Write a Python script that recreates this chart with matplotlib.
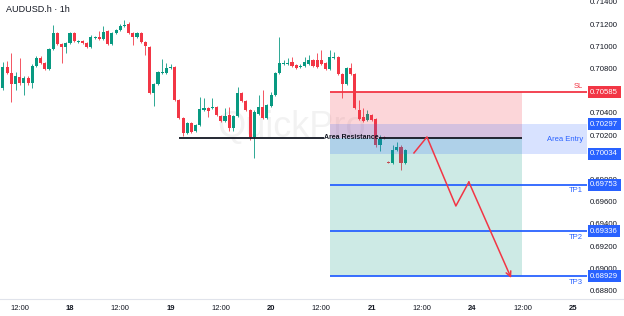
import matplotlib
matplotlib.use("Agg")
import matplotlib.pyplot as plt
from matplotlib.lines import Line2D
from matplotlib.patches import Rectangle
import numpy as np

plt.rcParams['font.family'] = ['Liberation Sans', 'DejaVu Sans']

# hourly candles from 17th 08:00 to 21st 08:00 (hour 0 = 18th 00:00)
openP = [0.70625, 0.70814, 0.70760, 0.70661, 0.70724, 0.70670, 0.70715, 0.70670, 0.70823, 0.70896,
         0.70850, 0.70796, 0.70977, 0.71121, 0.71022, 0.70995, 0.71031, 0.71121, 0.71040, 0.71049,
         0.71031, 0.70995, 0.71076, 0.71085, 0.71067, 0.71139, 0.71022, 0.71121, 0.71148, 0.71184,
         0.71202, 0.71121, 0.71085, 0.71121, 0.71040, 0.70995, 0.70580, 0.70661, 0.70760, 0.70760,
         0.70805, 0.70814, 0.70517, 0.70355, 0.70220, 0.70310, 0.70238, 0.70292, 0.70427, 0.70445,
         0.70445, 0.70454, 0.70373, 0.70328, 0.70382, 0.70265, 0.70373, 0.70580, 0.70508, 0.70427,
         0.70184, 0.70391, 0.70454, 0.70355, 0.70463, 0.70562, 0.70760, 0.70841, 0.70841, 0.70859,
         0.70832, 0.70814, 0.70823, 0.70841, 0.70877, 0.70877, 0.70877, 0.70850, 0.70796, 0.70896,
         0.70905, 0.70751, 0.70661, 0.70805, 0.70751, 0.70427, 0.70364, 0.70337, 0.70382, 0.70346,
         0.70112, 0.70184, 0.69959, 0.69950, 0.70067, 0.70094, 0.69950]
highP = [0.70859, 0.70868, 0.70941, 0.70769, 0.70896, 0.70733, 0.70733, 0.70841, 0.70914, 0.70914,
         0.70859, 0.70986, 0.71193, 0.71130, 0.71031, 0.71040, 0.71130, 0.71130, 0.71058, 0.71058,
         0.71040, 0.71103, 0.71094, 0.71139, 0.71184, 0.71148, 0.71130, 0.71157, 0.71202, 0.71238,
         0.71220, 0.71130, 0.71130, 0.71130, 0.71049, 0.71004, 0.70670, 0.70778, 0.70887, 0.70850,
         0.70841, 0.70823, 0.70526, 0.70364, 0.70319, 0.70319, 0.70301, 0.70544, 0.70535, 0.70454,
         0.70535, 0.70463, 0.70382, 0.70445, 0.70454, 0.70382, 0.70634, 0.70589, 0.70517, 0.70436,
         0.70427, 0.70562, 0.70607, 0.70481, 0.70589, 0.70769, 0.71085, 0.70877, 0.70896, 0.70905,
         0.70841, 0.70841, 0.70905, 0.70923, 0.70887, 0.70941, 0.70968, 0.70859, 0.70968, 0.70950,
         0.70914, 0.70760, 0.70814, 0.70850, 0.70760, 0.70517, 0.70445, 0.70427, 0.70391, 0.70355,
         0.70202, 0.70193, 0.69968, 0.70112, 0.70139, 0.70112, 0.70076]
lowP = [0.70607, 0.70751, 0.70499, 0.70607, 0.70652, 0.70562, 0.70652, 0.70625, 0.70814, 0.70841,
        0.70787, 0.70787, 0.70968, 0.71013, 0.70850, 0.70941, 0.71022, 0.71040, 0.71031, 0.71022,
        0.70986, 0.70986, 0.71067, 0.71058, 0.71058, 0.71013, 0.71013, 0.71112, 0.71139, 0.71175,
        0.71112, 0.71013, 0.71076, 0.71031, 0.70923, 0.70571, 0.70463, 0.70652, 0.70751, 0.70751,
        0.70796, 0.70508, 0.70346, 0.70193, 0.70211, 0.70220, 0.70229, 0.70283, 0.70418, 0.70364,
        0.70436, 0.70373, 0.70319, 0.70319, 0.70238, 0.70238, 0.70364, 0.70499, 0.70418, 0.70157,
        0.69995, 0.70382, 0.70346, 0.70346, 0.70454, 0.70553, 0.70751, 0.70832, 0.70832, 0.70814,
        0.70796, 0.70805, 0.70814, 0.70832, 0.70814, 0.70805, 0.70832, 0.70787, 0.70787, 0.70887,
        0.70742, 0.70535, 0.70652, 0.70742, 0.70436, 0.70337, 0.70319, 0.70328, 0.70328, 0.70094,
        0.70058, 0.70166, 0.69950, 0.69941, 0.70058, 0.69886, 0.69941]
closeP = [0.70814, 0.70760, 0.70661, 0.70733, 0.70670, 0.70715, 0.70670, 0.70823, 0.70896, 0.70850,
          0.70796, 0.70977, 0.71121, 0.71022, 0.70995, 0.71031, 0.71121, 0.71049, 0.71049, 0.71031,
          0.70995, 0.71085, 0.71085, 0.71067, 0.71130, 0.71022, 0.71121, 0.71148, 0.71184, 0.71193,
          0.71121, 0.71085, 0.71121, 0.71040, 0.71004, 0.70580, 0.70661, 0.70769, 0.70769, 0.70805,
          0.70814, 0.70517, 0.70355, 0.70220, 0.70310, 0.70229, 0.70292, 0.70436, 0.70445, 0.70418,
          0.70454, 0.70382, 0.70328, 0.70373, 0.70265, 0.70373, 0.70580, 0.70508, 0.70427, 0.70184,
          0.70409, 0.70454, 0.70355, 0.70472, 0.70562, 0.70760, 0.70850, 0.70850, 0.70850, 0.70823,
          0.70805, 0.70823, 0.70859, 0.70877, 0.70823, 0.70814, 0.70841, 0.70796, 0.70905, 0.70905,
          0.70751, 0.70661, 0.70805, 0.70751, 0.70445, 0.70346, 0.70328, 0.70391, 0.70337, 0.70112,
          0.70166, 0.70175, 0.69950, 0.70067, 0.70094, 0.69950, 0.70067]
hours = np.arange(len(openP)) - 16

tickPos = [-12, 0, 12, 24, 36, 48, 60, 72, 84, 96, 108, 120]
tickNames = ['12:00', '18', '12:00', '19', '12:00', '20', '12:00', '21', '12:00', '24', '12:00', '25']
priceTicks = np.arange(0.688, 0.7141, 0.002)

# trade setup
slPrice = 0.70585
entryPrice = 0.70175
areaTop = 0.70297
areaBottom = 0.70034
tpPrices = [0.69753, 0.69336, 0.68929]
tpNames = ['TP1', 'TP2', 'TP3']
boxStart = 62
boxEnd = 108
resistStart = 26

# projected path
arrowX = [82.1, 85.2, 92.1, 95.2, 105.3]
arrowY = [0.70040, 0.70184, 0.69562, 0.69778, 0.68913]

green = '#089981'
red = '#f23645'
blue = '#2962ff'
dark = '#131722'

fig = plt.figure(figsize=(6.24, 3.16), dpi=100)
ax = fig.add_axes([0, 17 / 316, 587 / 624, 299 / 316])
xLeft, xRight = -16.7, 123.4
ax.set_xlim(xLeft, xRight)
ax.set_ylim(0.68724, 0.71418)
for s in ax.spines.values():
    s.set_visible(False)

# candles
openA = np.array(openP)
closeA = np.array(closeP)
colors = np.where(closeA >= openA, green, red)
ax.vlines(hours, lowP, highP, colors=colors, linewidth=0.7, alpha=0.85, zorder=2)
bodyH = np.maximum(np.abs(closeA - openA), 0.00009)
ax.bar(hours, bodyH, bottom=np.minimum(openA, closeA), width=0.74, color=colors, linewidth=0, zorder=2)

# watermark
ax.text(53, 0.70265, 'QuickPro', fontsize=26, color='#000000', alpha=0.05, ha='center', va='center', zorder=1)

# position boxes
ax.add_patch(Rectangle((boxStart, entryPrice), boxEnd - boxStart, slPrice - entryPrice,
                       facecolor=red, alpha=0.2, linewidth=0, zorder=3))
ax.add_patch(Rectangle((boxStart, tpPrices[2]), boxEnd - boxStart, entryPrice - tpPrices[2],
                       facecolor=green, alpha=0.2, linewidth=0, zorder=3))
ax.add_patch(Rectangle((boxStart, areaBottom), xRight - boxStart, areaTop - areaBottom,
                       facecolor=blue, alpha=0.18, linewidth=0, zorder=3))

# SL / TP lines
ax.hlines(slPrice, boxStart, xRight, color=red, linewidth=1.3, zorder=4)
ax.text(122.4, slPrice + 0.00058, 'SL', color=red, fontsize=5.5, ha='right', va='center', zorder=5)
for p, n in zip(tpPrices, tpNames):
    ax.hlines(p, boxStart, xRight, color=blue, linewidth=1.3, zorder=4)
    ax.text(122.4, p - 0.00055, n, color=blue, fontsize=5.5, ha='right', va='center', zorder=5)
ax.text(122.4, (areaTop + areaBottom) / 2, 'Area Entry', color=blue, fontsize=5.5, ha='right', va='center', zorder=5)

# area resistance line, broken around its label
ax.hlines(entryPrice, resistStart, 60.6, color=dark, linewidth=1.3, zorder=4)
ax.hlines(entryPrice, 73.8, boxEnd, color=dark, linewidth=1.3, zorder=4)
ax.text(67.2, entryPrice + 0.00003, 'Area Resistance', color=dark, fontsize=5.0, fontweight='bold',
        ha='center', va='center', zorder=5)

# red projection arrow
ax.plot(arrowX[:-1], arrowY[:-1], color=red, linewidth=1.1, zorder=5)
ax.annotate('', xy=(arrowX[-1], arrowY[-1]), xytext=(arrowX[-2], arrowY[-2]),
            arrowprops=dict(arrowstyle='->', color=red, lw=1.1, shrinkA=0, shrinkB=0, mutation_scale=9), zorder=5)

# x axis
ax.set_xticks(tickPos)
ax.set_xticklabels(tickNames)
ax.tick_params(axis='x', length=0, pad=4, labelsize=5.5, labelcolor=dark)
for lbl in ax.get_xticklabels():
    if ':' not in lbl.get_text():
        lbl.set_fontweight('bold')

# price scale on the right
ax.yaxis.tick_right()
ax.set_yticks(priceTicks)
ax.set_yticklabels(['%.5f' % p for p in priceTicks])
ax.tick_params(axis='y', length=0, pad=2.3, labelsize=5.6, labelcolor=dark)

labelTrans = ax.get_yaxis_transform()
for p, c in [(slPrice, red), (areaTop, blue), (areaBottom, blue)] + [(t, blue) for t in tpPrices]:
    ax.text(1.0 + 3.2 / 587, p, '%.5f' % p, transform=labelTrans, color='white', fontsize=5.6,
            ha='left', va='center', clip_on=False, zorder=6,
            bbox=dict(boxstyle='square,pad=0.32', facecolor=c, edgecolor='none'))

fig.add_artist(Line2D([0, 1], [17 / 316, 17 / 316], transform=fig.transFigure, color='#e0e3eb', linewidth=0.8))
fig.text(6 / 624, 1 - 10 / 316, 'AUDUSD.h \u00b7 1h', fontsize=6.5, color=dark, va='center', ha='left')

fig.savefig('out.png', dpi=100)
